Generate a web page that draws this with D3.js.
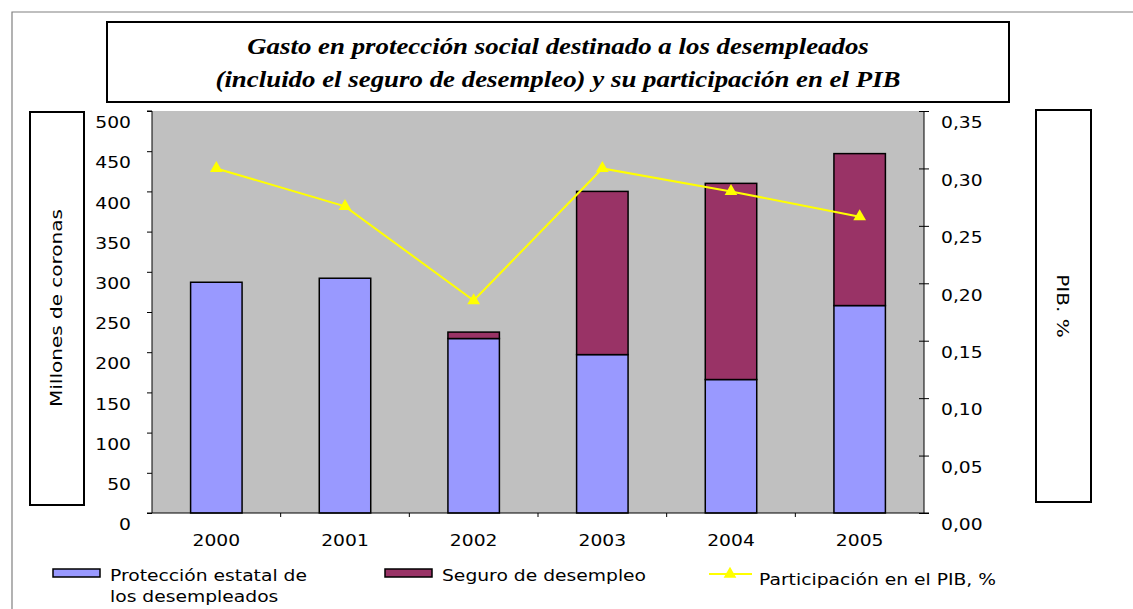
<!DOCTYPE html>
<html>
<head>
<meta charset="utf-8">
<script src="https://cdn.jsdelivr.net/npm/d3@7"></script>
<style>
  body { margin: 0; background: #fff; }
  svg { display: block; }
  text { font-family: "DejaVu Sans", Verdana, sans-serif; }
</style>
</head>
<body>
<svg id="chart" width="1133" height="609"></svg>
<script>
const years = ["2000", "2001", "2002", "2003", "2004", "2005"]
const proteccion = [287, 292, 217, 197, 166, 258]   // Protección estatal de los desempleados
const seguro = [0, 0, 8, 203, 244, 189]              // Seguro de desempleo
const pibShare = [0.30, 0.267, 0.185, 0.30, 0.28, 0.258]
const leftTicks = [0, 50, 100, 150, 200, 250, 300, 350, 400, 450, 500]
const rightTicks = [0, 0.05, 0.10, 0.15, 0.20, 0.25, 0.30, 0.35]

const colors = { proteccion: "#9999FF", seguro: "#993366", pib: "#FFFF00", plot: "#C0C0C0" }

const svg = d3.select("#chart")
const plot = { left: 152, right: 924, top: 111, bottom: 513 }
const SX = 1.17 // the original's lettering is wider than DejaVu

// widen text horizontally around its own anchor
function stretch(sel, sx) {
    sel.each(function () {
        const t = d3.select(this)
        const tx = +(t.attr("x") || 0)
        t.attr("x", tx / sx)
        t.selectAll("tspan").each(function () {
            const s = d3.select(this)
            if (s.attr("x") !== null) s.attr("x", +s.attr("x") / sx)
        })
        const tr = t.attr("transform") || ""
        t.attr("transform", `${tr} scale(${sx},1)`)
    })
}

// outer chart frame (only top and left visible)
svg.append("path")
    .attr("d", "M12,609 L12,12 L1133,12")
    .attr("fill", "none")
    .attr("stroke", "#808080")
    .attr("stroke-width", 1.2)

// title box
svg.append("rect")
    .attr("x", 107).attr("y", 22).attr("width", 902).attr("height", 80)
    .attr("fill", "#fff").attr("stroke", "#000").attr("stroke-width", 2)

const title = svg.append("text")
    .attr("text-anchor", "middle")
    .style("font-family", "'Liberation Serif', 'Times New Roman', serif")
    .style("font-style", "italic")
    .style("font-weight", "bold")
    .style("font-size", "24px")
title.append("tspan").attr("x", 558).attr("y", 54).text("Gasto en protección social destinado a los desempleados")
title.append("tspan").attr("x", 558).attr("y", 87).text("(incluido el seguro de desempleo) y su participación en el PIB")
stretch(title, 1.12)

// scales
const x = d3.scaleBand().domain(years).range([plot.left, plot.right]).paddingInner(0.6).paddingOuter(0.3)
const y = d3.scaleLinear().domain([0, 500]).range([plot.bottom, plot.top])
const y2 = d3.scaleLinear().domain([0, 0.35]).range([plot.bottom, plot.top])

svg.append("rect")
    .attr("x", plot.left).attr("y", plot.top)
    .attr("width", plot.right - plot.left).attr("height", plot.bottom - plot.top)
    .attr("fill", colors.plot)

// stacked bars
const stackData = years.map((yr, i) => ({ year: yr, proteccion: proteccion[i], seguro: seguro[i] }))
const stacked = d3.stack().keys(["proteccion", "seguro"])(stackData)

svg.append("g").selectAll("g")
    .data(stacked)
    .join("g")
    .attr("fill", d => colors[d.key])
    .selectAll("rect")
    .data(d => d.filter(s => s[1] - s[0] > 0))
    .join("rect")
    .attr("x", d => x(d.data.year))
    .attr("y", d => y(d[1]))
    .attr("width", x.bandwidth())
    .attr("height", d => y(d[0]) - y(d[1]))
    .attr("stroke", "#000")
    .attr("stroke-width", 1.5)

// axes
const decimalComma = d3.formatLocale({ decimal: ",", thousands: ".", grouping: [3], currency: ["", ""] })

const leftAxis = svg.append("g")
    .attr("transform", `translate(${plot.left},0)`)
    .call(d3.axisLeft(y).tickValues(leftTicks).tickSize(5).tickPadding(16))
const rightAxis = svg.append("g")
    .attr("transform", `translate(${plot.right},0)`)
    .call(d3.axisRight(y2).tickValues(rightTicks).tickSize(5).tickPadding(12).tickFormat(decimalComma.format(".2f")))
// ticks cross the right axis
rightAxis.selectAll(".tick line").attr("x1", -5)

const bottomAxis = svg.append("g")
    .attr("transform", `translate(0,${plot.bottom})`)
    .call(d3.axisBottom(x).tickSize(0).tickPadding(0))
bottomAxis.select(".domain").remove()
bottomAxis.append("line")
    .attr("x1", plot.left - 5).attr("x2", plot.right + 5)
    .attr("stroke", "#000").attr("stroke-width", 1)
bottomAxis.selectAll(".sep")
    .data(years.slice(1))
    .join("line")
    .attr("class", "sep")
    .attr("x1", d => x(d) - x.step() * x.paddingInner() / 2)
    .attr("x2", d => x(d) - x.step() * x.paddingInner() / 2)
    .attr("y1", 0).attr("y2", 4)
    .attr("stroke", "#000")

;[leftAxis, rightAxis].forEach(ax => {
    ax.select(".domain").attr("stroke", "#000").attr("stroke-width", 1)
    ax.selectAll(".tick line").attr("stroke", "#000")
    ax.selectAll(".tick text").attr("dy", "1.05em")
})
leftAxis.select(".domain").attr("d", `M-5,${plot.top}H0V${plot.bottom}`)
rightAxis.select(".domain").attr("d", `M0,${plot.top}V${plot.bottom}`)

svg.selectAll(".tick text")
    .style("font-family", "'DejaVu Sans', Verdana, sans-serif")
    .style("font-size", "16px")
    .attr("fill", "#000")
bottomAxis.selectAll(".tick text").attr("y", 27).attr("dy", "0.35em")
stretch(svg.selectAll(".tick text"), SX)

// PIB line
const line = d3.line().x((d, i) => x(years[i]) + x.bandwidth() / 2).y(d => y2(d))
svg.append("path")
    .datum(pibShare)
    .attr("d", line)
    .attr("fill", "none")
    .attr("stroke", colors.pib)
    .attr("stroke-width", 2)

const tri = d3.symbol().type(d3.symbolTriangle).size(70)
svg.append("g").selectAll("path")
    .data(pibShare)
    .join("path")
    .attr("d", tri)
    .attr("transform", (d, i) => `translate(${x(years[i]) + x.bandwidth() / 2},${y2(d)})`)
    .attr("fill", colors.pib)

// axis title boxes
svg.append("rect").attr("x", 30).attr("y", 112).attr("width", 54).attr("height", 393)
    .attr("fill", "#fff").attr("stroke", "#000").attr("stroke-width", 2)
const yTitle = svg.append("text")
    .attr("transform", "translate(62,308) rotate(-90)")
    .attr("text-anchor", "middle")
    .style("font-size", "16px")
    .text("Millones de coronas")

svg.append("rect").attr("x", 1036).attr("y", 110).attr("width", 55).attr("height", 392)
    .attr("fill", "#fff").attr("stroke", "#000").attr("stroke-width", 2)
const y2Title = svg.append("text")
    .attr("transform", "translate(1057,306) rotate(90)")
    .attr("text-anchor", "middle")
    .style("font-size", "16px")
    .text("PIB. %")
stretch(yTitle, 1.25)
stretch(y2Title, 1.25)

// legend
const legend = svg.append("g").style("font-size", "16px")
const legendItems = [
    { x: 53, color: colors.proteccion, lines: ["Protección estatal de", "los desempleados"] },
    { x: 385, color: colors.seguro, lines: ["Seguro de desempleo"] }
]
legendItems.forEach(item => {
    legend.append("rect")
        .attr("x", item.x).attr("y", 569).attr("width", 47).attr("height", 8)
        .attr("fill", item.color).attr("stroke", "#000").attr("stroke-width", 1.5)
    const t = legend.append("text").attr("x", item.x + 57).attr("y", 581)
    item.lines.forEach((ln, i) => t.append("tspan").attr("x", item.x + 57).attr("dy", i ? 21 : 0).text(ln))
})
legend.append("line")
    .attr("x1", 709).attr("x2", 752).attr("y1", 574).attr("y2", 574)
    .attr("stroke", colors.pib).attr("stroke-width", 2)
legend.append("path")
    .attr("d", tri)
    .attr("transform", "translate(730,574)")
    .attr("fill", colors.pib)
legend.append("text").attr("x", 759).attr("y", 585).text("Participación en el PIB, %")
stretch(legend.selectAll("text"), SX)
</script>
</body>
</html>
